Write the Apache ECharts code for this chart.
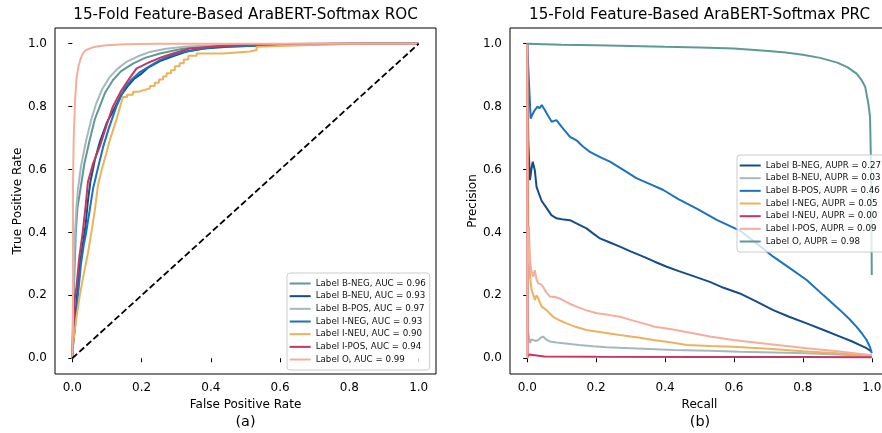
<!DOCTYPE html>
<html><head><meta charset="utf-8">
<script src="https://cdn.jsdelivr.net/npm/echarts@6/dist/echarts.min.js"></script>
<style>html,body{margin:0;padding:0;background:#fff;overflow:hidden}#c{width:882px;height:433px}</style>
</head><body><div id="c"></div>
<script>
const labels = ['B-NEG','B-NEU','B-POS','I-NEG','I-NEU','I-POS','O'];
const aucValues = [0.96,0.93,0.97,0.93,0.90,0.94,0.99];
const auprValues = [0.27,0.03,0.46,0.05,0.00,0.09,0.98];
const tickValues = [0,0.2,0.4,0.6,0.8,1.0];

// ROC curves [FPR, TPR]
const rocBNeg = [[0,0],[0.002,0.1],[0.004,0.2],[0.007,0.3],[0.01,0.4],[0.015,0.48],[0.023,0.535],[0.035,0.62],[0.05,0.693],[0.065,0.76],[0.079,0.80],[0.095,0.845],[0.117,0.884],[0.14,0.912],[0.175,0.937],[0.21,0.955],[0.253,0.969],[0.3,0.98],[0.34,0.988],[0.4,0.993],[0.5,0.997],[0.6,0.999],[0.8,1.0],[1,1]];
const rocBNeu = [[0,0],[0.002,0.05],[0.005,0.08],[0.007,0.1],[0.01,0.15],[0.015,0.22],[0.022,0.3],[0.03,0.36],[0.038,0.42],[0.045,0.5],[0.052,0.56],[0.065,0.63],[0.08,0.69],[0.1,0.75],[0.12,0.79],[0.14,0.835],[0.16,0.865],[0.18,0.89],[0.2,0.905],[0.22,0.925],[0.253,0.945],[0.29,0.96],[0.33,0.975],[0.38,0.985],[0.45,0.99],[0.55,0.995],[0.65,0.998],[0.8,1.0],[1,1]];
const rocBPos = [[0,0],[0.001,0.1],[0.003,0.2],[0.005,0.3],[0.008,0.4],[0.012,0.48],[0.016,0.535],[0.025,0.61],[0.04,0.693],[0.055,0.76],[0.069,0.81],[0.087,0.857],[0.108,0.894],[0.13,0.92],[0.156,0.942],[0.19,0.96],[0.224,0.974],[0.27,0.984],[0.32,0.99],[0.4,0.994],[0.5,0.997],[0.65,0.999],[0.8,1.0],[1,1]];
const rocINeg = [[0,0],[0.002,0.04],[0.005,0.07],[0.008,0.1],[0.012,0.15],[0.018,0.22],[0.025,0.3],[0.033,0.36],[0.04,0.4],[0.05,0.47],[0.06,0.54],[0.075,0.61],[0.089,0.672],[0.105,0.73],[0.127,0.80],[0.151,0.858],[0.17,0.885],[0.195,0.91],[0.225,0.93],[0.253,0.948],[0.285,0.962],[0.32,0.974],[0.37,0.983],[0.417,0.99],[0.513,0.993],[0.6,0.996],[0.7,0.998],[0.8,0.999],[0.85,1.0],[1,1]];
const rocINeu = [[0,0],[0.003,0.05],[0.007,0.09],[0.012,0.13],[0.021,0.196],[0.03,0.25],[0.045,0.334],[0.055,0.4],[0.065,0.47],[0.074,0.55],[0.085,0.6],[0.098,0.651],[0.11,0.7],[0.127,0.757],[0.146,0.831],[0.158,0.831],[0.158,0.838],[0.175,0.838],[0.175,0.847],[0.19,0.847],[0.19,0.852],[0.205,0.852],[0.205,0.858],[0.224,0.858],[0.224,0.866],[0.238,0.866],[0.238,0.876],[0.25,0.876],[0.25,0.886],[0.262,0.886],[0.262,0.896],[0.272,0.896],[0.272,0.906],[0.285,0.906],[0.285,0.916],[0.296,0.916],[0.296,0.928],[0.31,0.928],[0.31,0.938],[0.322,0.938],[0.322,0.95],[0.335,0.95],[0.335,0.962],[0.359,0.962],[0.359,0.969],[0.436,0.969],[0.436,0.975],[0.513,0.975],[0.513,0.98],[0.532,0.98],[0.532,0.99],[0.6,0.993],[0.8,1.0],[1,1]];
const rocIPos = [[0,0],[0.002,0.08],[0.005,0.15],[0.008,0.2],[0.012,0.227],[0.02,0.32],[0.03,0.4],[0.038,0.48],[0.045,0.56],[0.06,0.62],[0.079,0.672],[0.1,0.745],[0.117,0.80],[0.142,0.852],[0.165,0.89],[0.185,0.921],[0.224,0.942],[0.26,0.958],[0.291,0.969],[0.339,0.985],[0.417,0.992],[0.5,0.996],[0.6,0.999],[0.75,1.0],[1,1]];
const rocO = [[0,0],[0.002,0.1],[0.002,0.55],[0.004,0.7],[0.008,0.82],[0.012,0.89],[0.018,0.93],[0.025,0.955],[0.031,0.97],[0.04,0.98],[0.055,0.987],[0.07,0.991],[0.1,0.995],[0.15,0.998],[0.25,1.0],[1,1]];
const rocChance = [[0,0],[1,1]];

// PR curves [Recall, Precision]
const prcBNeg = [[0,1],[0.003,0.69],[0.006,0.693],[0.008,0.566],[0.012,0.6],[0.016,0.625],[0.022,0.598],[0.027,0.545],[0.035,0.52],[0.042,0.5],[0.056,0.478],[0.07,0.455],[0.085,0.445],[0.1,0.442],[0.124,0.439],[0.15,0.425],[0.172,0.413],[0.19,0.398],[0.211,0.381],[0.24,0.368],[0.269,0.355],[0.3,0.34],[0.337,0.323],[0.37,0.307],[0.405,0.291],[0.44,0.277],[0.472,0.265],[0.53,0.243],[0.57,0.224],[0.617,0.206],[0.66,0.183],[0.714,0.153],[0.76,0.132],[0.811,0.111],[0.86,0.09],[0.908,0.069],[0.94,0.055],[0.966,0.042],[0.985,0.032],[1.0,0.021]];
const prcBNeu = [[0,1],[0.002,0.09],[0.004,0.07],[0.008,0.048],[0.012,0.06],[0.017,0.064],[0.025,0.055],[0.032,0.058],[0.04,0.066],[0.046,0.069],[0.055,0.06],[0.066,0.053],[0.085,0.05],[0.105,0.048],[0.15,0.042],[0.192,0.038],[0.23,0.035],[0.337,0.03],[0.424,0.026],[0.53,0.024],[0.617,0.021],[0.811,0.016],[0.9,0.012],[1.0,0.007]];
const prcBPos = [[0,1],[0.004,0.9],[0.006,0.9],[0.01,0.762],[0.015,0.775],[0.022,0.789],[0.03,0.8],[0.036,0.795],[0.042,0.805],[0.051,0.789],[0.06,0.772],[0.071,0.752],[0.085,0.757],[0.1,0.736],[0.124,0.704],[0.143,0.693],[0.16,0.675],[0.182,0.656],[0.21,0.64],[0.24,0.625],[0.28,0.598],[0.318,0.572],[0.36,0.552],[0.395,0.535],[0.44,0.505],[0.492,0.476],[0.55,0.44],[0.617,0.406],[0.66,0.37],[0.714,0.323],[0.76,0.288],[0.811,0.249],[0.86,0.2],[0.908,0.153],[0.935,0.125],[0.956,0.1],[0.972,0.078],[0.985,0.058],[0.995,0.035],[1.0,0.016]];
const prcINeg = [[0,1],[0.002,0.62],[0.003,0.35],[0.005,0.42],[0.008,0.259],[0.013,0.217],[0.018,0.2],[0.022,0.185],[0.027,0.2],[0.032,0.19],[0.042,0.164],[0.056,0.153],[0.075,0.132],[0.095,0.12],[0.114,0.111],[0.14,0.1],[0.172,0.09],[0.22,0.082],[0.269,0.074],[0.327,0.065],[0.366,0.058],[0.42,0.05],[0.463,0.042],[0.53,0.039],[0.598,0.037],[0.7,0.03],[0.8,0.022],[0.9,0.016],[1.0,0.01]];
const prcINeu = [[0,1],[0.001,0.003],[0.005,0.012],[0.008,0.006],[0.05,0.006],[0.2,0.005],[0.5,0.004],[0.8,0.004],[1.0,0.003]];
const prcIPos = [[0,1],[0.0005,0.0],[0.002,0.42],[0.004,0.3],[0.006,0.35],[0.008,0.312],[0.012,0.28],[0.017,0.259],[0.022,0.28],[0.027,0.25],[0.032,0.238],[0.04,0.235],[0.046,0.227],[0.055,0.21],[0.066,0.196],[0.08,0.195],[0.095,0.19],[0.12,0.175],[0.143,0.164],[0.17,0.153],[0.202,0.143],[0.235,0.138],[0.269,0.132],[0.3,0.122],[0.337,0.111],[0.37,0.1],[0.414,0.093],[0.47,0.082],[0.53,0.069],[0.598,0.058],[0.7,0.045],[0.811,0.032],[0.9,0.022],[1.0,0.01]];
const prcO = [[0,1.0],[0.1,0.997],[0.2,0.995],[0.3,0.993],[0.4,0.99],[0.5,0.988],[0.6,0.985],[0.7,0.977],[0.75,0.972],[0.8,0.965],[0.85,0.955],[0.9,0.94],[0.93,0.925],[0.956,0.905],[0.97,0.885],[0.981,0.863],[0.99,0.81],[0.995,0.767],[0.998,0.6],[1.0,0.265]];

const rocData = [rocBNeg, rocBNeu, rocBPos, rocINeg, rocINeu, rocIPos, rocO];
const prcData = [prcBNeg, prcBNeu, prcBPos, prcINeg, prcINeu, prcIPos, prcO];

const TEAL='#5e9995', DBLUE='#154c8a', LGRAY='#a6b8bd', BLUE='#1a73c1', ORANGE='#eab35c', CRIMSON='#c4385f', SALMON='#f5ae9b';
const rocColors = [TEAL, DBLUE, LGRAY, BLUE, ORANGE, CRIMSON, SALMON];
const prcColors = [DBLUE, LGRAY, BLUE, ORANGE, CRIMSON, SALMON, TEAL];

const FONT = 'DejaVu Sans';
const rocNames = labels.map((l,i)=>`Label ${l}, AUC = ${aucValues[i].toFixed(2)}`);
const prcNames = labels.map((l,i)=>`Label ${l}, AUPR = ${auprValues[i].toFixed(2)}`);

function makeAxis(gridIndex, name, isX) {
  return {
    type: 'value', gridIndex, min: -0.05, max: 1.05,
    name, nameLocation: 'middle', nameGap: isX ? 24 : 31,
    nameTextStyle: {fontFamily: FONT, fontSize: 12, color: '#000'},
    axisLine: {show: false},
    axisTick: {show: true, length: 4, customValues: tickValues, lineStyle: {color: '#000', width: 1}},
    axisLabel: {customValues: tickValues, formatter: v => v.toFixed(1), fontFamily: FONT, fontSize: 12, color: '#000', margin: 8},
    splitLine: {show: false}
  };
}

const series = [];
rocData.forEach((d,i)=>series.push({
  type:'line', name: rocNames[i], xAxisIndex:0, yAxisIndex:0, data:d, showSymbol:false, symbol:'none',
  color: rocColors[i], itemStyle:{color: rocColors[i]}, lineStyle:{color: rocColors[i], width:2}, z: 2+i*0.01
}));
series.push({type:'line', name:'chance', xAxisIndex:0, yAxisIndex:0, data: rocChance, showSymbol:false, symbol:'none',
  lineStyle:{color:'#000', width:1.8, type:[6.5,3]}, z:3});
prcData.forEach((d,i)=>series.push({
  type:'line', name: prcNames[i], xAxisIndex:1, yAxisIndex:1, data:d, showSymbol:false, symbol:'none',
  color: prcColors[i], itemStyle:{color: prcColors[i]}, lineStyle:{color: prcColors[i], width:2}, z: 2+i*0.01
}));

const legendBase = {
  orient:'vertical', icon:'rect', itemWidth:21, itemHeight:2, itemGap:2.67,
  padding:[5.5,4,5.5,2.7], backgroundColor:'rgba(255,255,255,0.8)', borderColor:'#cccccc', borderWidth:1, borderRadius:3,
  textStyle:{fontFamily:FONT, fontSize:8.7, color:'#111', lineHeight:10}, selectedMode:false
};

const titleStyle = {fontFamily: FONT, fontSize: 15.2, fontWeight: 'normal', color: '#000', lineHeight: 17};
const subStyle = {fontFamily: FONT, fontSize: 14.4, fontWeight: 'normal', color: '#000', lineHeight: 16};
const option = {
  animation:false,
  backgroundColor:'#fff',
  title:[
    {text:'15-Fold Feature-Based AraBERT-Softmax ROC', left:245.5, top:7, textAlign:'center', padding:0, textStyle:titleStyle},
    {text:'15-Fold Feature-Based AraBERT-Softmax PRC', left:699.5, top:7, textAlign:'center', padding:0, textStyle:titleStyle},
    {text:'(a)', left:245.5, top:414.5, textAlign:'center', padding:0, textStyle:subStyle},
    {text:'(b)', left:700, top:414.5, textAlign:'center', padding:0, textStyle:subStyle}
  ],
  grid:[
    {left:55, top:28, width:381, height:346, show:true, borderColor:'#000', borderWidth:1, backgroundColor:'transparent', outerBoundsMode:'none', containLabel:false},
    {left:510, top:28, width:379, height:346, show:true, borderColor:'#000', borderWidth:1, backgroundColor:'transparent', outerBoundsMode:'none', containLabel:false}
  ],
  xAxis:[makeAxis(0,'False Positive Rate',true), makeAxis(1,'Recall',true)],
  yAxis:[makeAxis(0,'True Positive Rate',false), makeAxis(1,'Precision',false)],
  legend:[
    Object.assign({}, legendBase, {data: rocNames, left:287, top:273}),
    Object.assign({}, legendBase, {data: prcNames, left:737, top:155})
  ],
  series
};
const chart = echarts.init(document.getElementById('c'), null, {renderer:'canvas'});
chart.setOption(option);
</script>
</body></html>
